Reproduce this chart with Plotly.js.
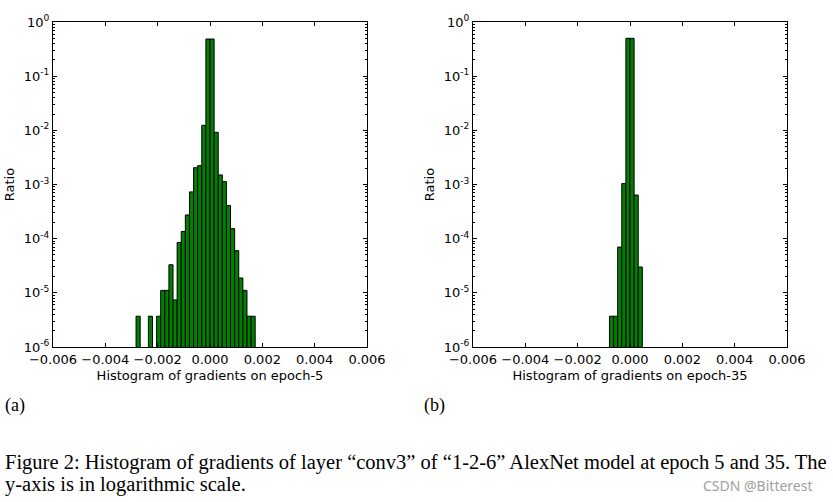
<!DOCTYPE html>
<html>
<head>
<meta charset="utf-8">
<script src="https://cdn.plot.ly/plotly-3.0.1.min.js"></script>
<style>
html,body{margin:0;padding:0;background:#fff;}
#chart{width:833px;height:502px;}
</style>
</head>
<body>
<div id="chart"></div>
<script>
// ---- data ----
const binWidth = 0.000157;

const epoch5Centers = [-0.0027475, -0.0022765, -0.0019625, -0.0018055, -0.0016485, -0.0014915,
  -0.0013345, -0.0011775, -0.0010205, -0.0008635, -0.0007065, -0.0005495, -0.0003925,
  -0.0002355, -0.0000785, 0.0000785, 0.0002355, 0.0003925, 0.0005495, 0.0007065,
  0.0008635, 0.0010205, 0.0011775, 0.0013345, 0.0014915, 0.0016485];
const epoch5Ratio = [3.7e-6, 3.7e-6, 3.7e-6, 1.11e-5, 1.11e-5, 3.3e-5,
  7.4e-6, 8.5e-5, 1.36e-4, 2.74e-4, 7.3e-4, 2.04e-3, 2.23e-3,
  1.24e-2, 0.485, 0.485, 9.2e-3, 1.5e-3, 1.13e-3, 4.1e-4,
  1.53e-4, 6.0e-5, 1.88e-5, 1.11e-5, 3.7e-6, 3.7e-6];

const epoch35Centers = [-0.0007065, -0.0005495, -0.0003925, -0.0002355, -0.0000785,
  0.0000785, 0.0002355, 0.0003925];
const epoch35Ratio = [3.7e-6, 3.7e-6, 7.0e-5, 1.04e-3, 0.5, 0.5, 6.4e-4, 3.0e-5];

const xTickVals = [-0.006, -0.004, -0.002, 0.000, 0.002, 0.004, 0.006];
const xTickText = ["\u22120.006", "\u22120.004", "\u22120.002", "0.000", "0.002", "0.004", "0.006"];
const yTickVals = [1e-6, 1e-5, 1e-4, 1e-3, 1e-2, 1e-1, 1];
const yTickText = ["10<sup>-6</sup>", "10<sup>-5</sup>", "10<sup>-4</sup>", "10<sup>-3</sup>",
  "10<sup>-2</sup>", "10<sup>-1</sup>", "10<sup>0</sup>"];

const xTitleA = "Histogram of gradients on epoch-5";
const xTitleB = "Histogram of gradients on epoch-35";
const yTitle = "Ratio";
const panelA = "(a)";
const panelB = "(b)";
const captionLine1 = "Figure 2: Histogram of gradients of layer \u201cconv3\u201d of \u201c1-2-6\u201d AlexNet model at epoch 5 and 35. The";
const captionLine2 = "y-axis is in logarithmic scale.";
const watermark = "CSDN @Bitterest";

// ---- chart ----
const barStyle = {color: '#008000', line: {color: '#000000', width: 1}};
const traces = [
  {type: 'bar', x: epoch5Centers, y: epoch5Ratio, width: binWidth, marker: barStyle,
   xaxis: 'x', yaxis: 'y', showlegend: false, hoverinfo: 'x+y'},
  {type: 'bar', x: epoch35Centers, y: epoch35Ratio, width: binWidth, marker: barStyle,
   xaxis: 'x2', yaxis: 'y2', showlegend: false, hoverinfo: 'x+y'}
];

const axFont = {family: 'DejaVu Sans, sans-serif', size: 13, color: '#000'};
function xAxis(domain, title, anchor) {
  return {
    domain: domain, anchor: anchor, range: [-0.006, 0.006],
    tickvals: xTickVals, ticktext: xTickText,
    ticks: 'inside', ticklen: 4, tickcolor: '#000', tickwidth: 1,
    showline: true, linecolor: '#000', linewidth: 1, mirror: 'ticks',
    showgrid: false, zeroline: false, tickfont: axFont,
    title: {text: title, font: axFont, standoff: 5}
  };
}
function yAxis(domain, anchor) {
  return {
    domain: domain, anchor: anchor, type: 'log', range: [-6, 0],
    tickvals: yTickVals, ticktext: yTickText,
    ticks: 'inside', ticklen: 4, tickcolor: '#000', tickwidth: 1,
    minor: {ticks: 'inside', ticklen: 2, tickcolor: '#000', dtick: 'D1', showgrid: false},
    showline: true, linecolor: '#000', linewidth: 1, mirror: 'ticks',
    showgrid: false, zeroline: false, tickfont: axFont,
    title: {text: yTitle, font: axFont, standoff: 6}
  };
}

const yDom = [(502 - 347) / 502, (502 - 22) / 502];
const serif = {family: 'Liberation Serif, serif', size: 20.5, color: '#000'};
const layout = {
  width: 833, height: 502,
  margin: {l: 0, r: 0, t: 0, b: 0},
  paper_bgcolor: '#fff', plot_bgcolor: '#fff',
  bargap: 0,
  xaxis: xAxis([53 / 833, 367 / 833], xTitleA, 'y'),
  yaxis: yAxis(yDom, 'x'),
  xaxis2: xAxis([473 / 833, 787 / 833], xTitleB, 'y2'),
  yaxis2: yAxis(yDom, 'x2'),
  annotations: [
    {text: panelA, xref: 'paper', yref: 'paper', x: 3 / 833, y: 1 - 405 / 502, xanchor: 'left', yanchor: 'middle',
     showarrow: false, font: {family: 'Liberation Serif, serif', size: 18, color: '#000'}},
    {text: panelB, xref: 'paper', yref: 'paper', x: 422 / 833, y: 1 - 405 / 502, xanchor: 'left', yanchor: 'middle',
     showarrow: false, font: {family: 'Liberation Serif, serif', size: 18, color: '#000'}},
    {text: captionLine1, xref: 'paper', yref: 'paper', x: 3 / 833, y: 1 - 462 / 502, xanchor: 'left', yanchor: 'middle',
     showarrow: false, font: serif},
    {text: captionLine2, xref: 'paper', yref: 'paper', x: 3 / 833, y: 1 - 484 / 502, xanchor: 'left', yanchor: 'middle',
     showarrow: false, font: serif},
    {text: watermark, xref: 'paper', yref: 'paper', x: 815 / 833, y: 1 - 485 / 502, xanchor: 'right', yanchor: 'middle',
     showarrow: false, font: {family: 'Noto Sans, sans-serif', size: 14, color: '#a0a0a0'}}
  ]
};

Plotly.newPlot('chart', traces, layout, {staticPlot: true});
</script>
</body>
</html>
